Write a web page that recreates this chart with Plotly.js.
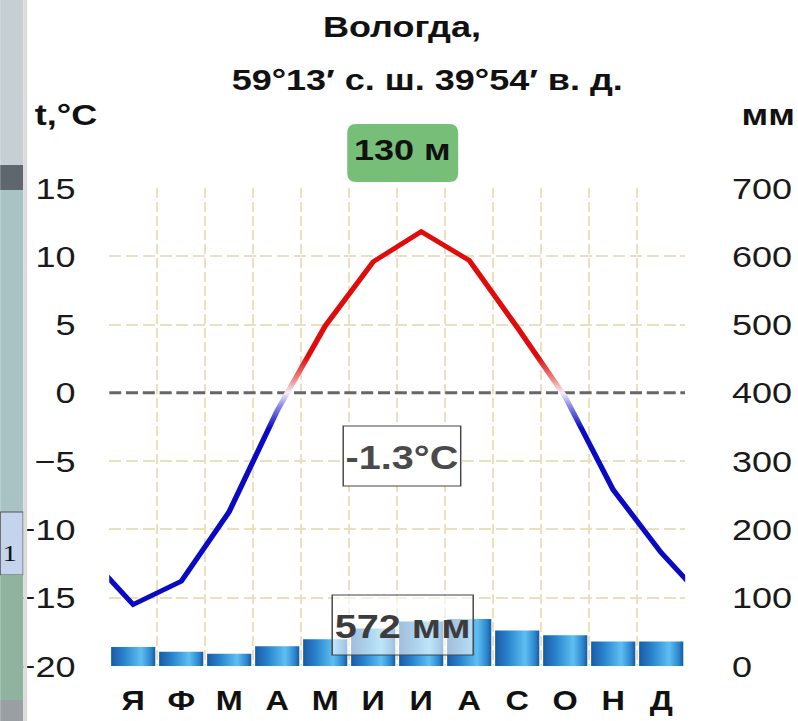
<!DOCTYPE html>
<html><head><meta charset="utf-8">
<script src="https://cdn.plot.ly/plotly-3.0.1.min.js"></script>
<style>
html,body{margin:0;padding:0;background:#fff;overflow:hidden}
#chart{width:665px;height:721px;transform:scaleX(1.2);transform-origin:0 0}
</style></head><body><div id="chart"></div>
<script>
// ---- data ----
const months = ['Я','Ф','М','А','М','И','И','А','С','О','Н','Д'];
const temps = [-15.5,-13.8,-8.7,-1.3,4.9,9.6,11.8,9.7,4.8,-0.3,-7.1,-11.7];
const precip = [28,21,18,29,39,55,65,69,52,45,36,36];
const tempTicks = [-20,-15,-10,-5,0,5,10,15];
const precipTicks = [0,100,200,300,400,500,600,700];
const titleText = 'Вологда,';
const coordText = '59°13′ с. ш. 39°54′ в. д.';
const tempUnit = 't,°C';
const precipUnit = 'мм';
const heightText = '130 м';
const meanTempText = '-1.3°C';
const totalPrecipText = '572 мм';

// ---- geometry helpers (page px -> plotly paper) ----
const S = 1.2, W = 798 / S, H = 721;
const ML = 109 / S, MR = W - 685 / S, MT = 188, MB = H - 666;
const PW = W - ML - MR, PH = H - MT - MB;
const px = X => (X / S - ML) / PW;
const py = Y => (H - MB - Y) / PH;

function roundRect(x0, y0, x1, y1, r) {
  const a = px(x0), b = px(x1), c = py(y1), d = py(y0);
  const rx = r / S / PW, ry = r / PH;
  return `M${a+rx},${c} L${b-rx},${c} Q${b},${c} ${b},${c+ry} L${b},${d-ry} Q${b},${d} ${b-rx},${d} L${a+rx},${d} Q${a},${d} ${a},${d-ry} L${a},${c+ry} Q${a},${c} ${a+rx},${c} Z`;
}

const idx = months.map((m, i) => i);
const FONT = '"Liberation Sans", Arial, sans-serif';

const bars = {
  type: 'bar', x: idx, y: precip, yaxis: 'y2', width: 0.92,
  marker: {color: '#2f8fd6', line: {width: 0}}, hoverinfo: 'skip'
};
const line = {
  type: 'scatter', mode: 'lines',
  x: [-1].concat(idx, [months.length]),
  y: [temps[temps.length - 1]].concat(temps, [temps[0]]),
  line: {color: '#1010c0', width: 4.6}, hoverinfo: 'skip'
};

const gridDash = '10px,4px';
const layout = {
  width: W, height: H,
  margin: {l: ML, r: MR, t: MT, b: MB, pad: 0},
  paper_bgcolor: '#ffffff', plot_bgcolor: '#ffffff',
  showlegend: false, hovermode: false,
  font: {family: FONT, color: '#1a1a1a'},
  title: {text: titleText, xref: 'container', yref: 'container',
          x: (402 / S) / W, y: 1 - 27 / H, xanchor: 'center', yanchor: 'middle',
          font: {size: 30, weight: 'bold', color: '#111', family: FONT}},
  xaxis: {range: [-0.5, months.length - 0.5], tickmode: 'array', tickvals: idx, ticktext: months,
          showgrid: false, zeroline: false, showline: false, ticks: '',
          ticklabelstandoff: 16,
          tickfont: {size: 27, weight: 'bold', color: '#111', family: FONT},
          minor: {tickmode: 'array', tickvals: idx.map(i => i - 0.5).concat([months.length - 0.5]),
                  showgrid: true, gridcolor: '#ecdfc0', gridwidth: 1.8, griddash: gridDash, ticks: ''}},
  yaxis: {range: [tempTicks[0], tempTicks[tempTicks.length - 1]], tickmode: 'array', tickvals: tempTicks,
          showgrid: true, gridcolor: '#ecdfc0', gridwidth: 2, griddash: gridDash,
          zeroline: false, showline: false, ticks: '', ticklabelstandoff: 27,
          tickfont: {size: 30, color: '#1a1a1a', family: FONT}},
  yaxis2: {range: [precipTicks[0], precipTicks[precipTicks.length - 1]], tickmode: 'array', tickvals: precipTicks,
           overlaying: 'y', side: 'right', showgrid: false, zeroline: false, showline: false,
           ticks: '', ticklabelstandoff: 38,
           tickfont: {size: 30, color: '#1a1a1a', family: FONT}},
  shapes: [
    // zero line
    {type: 'line', xref: 'x', yref: 'y', x0: -0.5, x1: months.length - 0.5, y0: 0, y1: 0,
     layer: 'between', line: {color: '#666666', width: 3, dash: '10px,4px'}},
    // altitude green box
    {type: 'path', xref: 'paper', yref: 'paper', path: roundRect(347, 124, 458, 182, 9),
     fillcolor: '#77bf78', line: {width: 0}, layer: 'above'},
    // mean temp box
    {type: 'rect', xref: 'paper', yref: 'paper', x0: px(343), x1: px(460.5), y0: py(486), y1: py(426),
     fillcolor: '#ffffff', line: {color: '#444', width: 1.2}, layer: 'above'},
    // total precip box
    {type: 'rect', xref: 'paper', yref: 'paper', x0: px(332), x1: px(473), y0: py(655), y1: py(595),
     fillcolor: 'rgba(255,255,255,0.6)', line: {color: '#444', width: 1.2}, layer: 'above'},
    // left edge background strip (photo remnant)
    {type: 'rect', xref: 'paper', yref: 'paper', x0: px(0), x1: px(23), y0: py(165), y1: py(0),
     fillcolor: '#c6d0d4', line: {width: 0}, layer: 'above'},
    {type: 'rect', xref: 'paper', yref: 'paper', x0: px(0), x1: px(23), y0: py(190), y1: py(165),
     fillcolor: '#5f676e', line: {width: 0}, layer: 'above'},
    {type: 'rect', xref: 'paper', yref: 'paper', x0: px(0), x1: px(23), y0: py(512), y1: py(190),
     fillcolor: '#a9c3c4', line: {width: 0}, layer: 'above'},
    {type: 'rect', xref: 'paper', yref: 'paper', x0: px(0), x1: px(23), y0: py(575), y1: py(512),
     fillcolor: '#c3d4ec', line: {color: '#555', width: 1}, layer: 'above'},
    {type: 'rect', xref: 'paper', yref: 'paper', x0: px(0), x1: px(23), y0: py(700), y1: py(575),
     fillcolor: '#8fb39e', line: {width: 0}, layer: 'above'},
    {type: 'rect', xref: 'paper', yref: 'paper', x0: px(0), x1: px(23), y0: py(721), y1: py(700),
     fillcolor: '#9a9fa3', line: {width: 0}, layer: 'above'},
    {type: 'rect', xref: 'paper', yref: 'paper', x0: px(23), x1: px(27), y0: py(721), y1: py(0),
     fillcolor: '#dcdcdc', line: {width: 0}, layer: 'above'}
  ],
  annotations: [
    {text: coordText, xref: 'paper', yref: 'paper', x: px(427), y: py(79), xanchor: 'center', yanchor: 'middle',
     showarrow: false, font: {size: 30, weight: 'bold', color: '#111', family: FONT}},
    {text: tempUnit, xref: 'paper', yref: 'paper', x: px(32), y: py(114), xanchor: 'left', yanchor: 'middle',
     showarrow: false, font: {size: 30, weight: 'bold', color: '#111', family: FONT}},
    {text: precipUnit, xref: 'paper', yref: 'paper', x: px(739), y: py(114), xanchor: 'left', yanchor: 'middle',
     showarrow: false, font: {size: 30, weight: 'bold', color: '#111', family: FONT}},
    {text: heightText, xref: 'paper', yref: 'paper', x: px(402.5), y: py(150), xanchor: 'center', yanchor: 'middle',
     showarrow: false, font: {size: 30, weight: 'bold', color: '#111', family: FONT}},
    {text: meanTempText, xref: 'paper', yref: 'paper', x: px(401.7), y: py(457), xanchor: 'center', yanchor: 'middle',
     showarrow: false, font: {size: 33, weight: 'bold', color: '#4a4a4a', family: FONT}},
    {text: totalPrecipText, xref: 'paper', yref: 'paper', x: px(402.5), y: py(626), xanchor: 'center', yanchor: 'middle',
     showarrow: false, font: {size: 33, weight: 'bold', color: '#3c3c3c', family: FONT}},
    {text: '1', xref: 'paper', yref: 'paper', x: px(1), y: py(553), xanchor: 'left', yanchor: 'middle',
     showarrow: false, borderpad: 0, font: {size: 24, color: '#111', family: '"Liberation Serif", serif'}}
  ]
};

const gd = document.getElementById('chart');
Plotly.newPlot(gd, [bars, line], layout, {staticPlot: true, displayModeBar: false}).then(() => {
  const NS = 'http://www.w3.org/2000/svg';
  const svg = gd.querySelector('svg.main-svg');
  let defs = svg.querySelector('defs');
  if (!defs) { defs = document.createElementNS(NS, 'defs'); svg.insertBefore(defs, svg.firstChild); }
  const mk = (id, attrs, stops) => {
    const g = document.createElementNS(NS, 'linearGradient');
    g.setAttribute('id', id);
    Object.keys(attrs).forEach(k => g.setAttribute(k, attrs[k]));
    stops.forEach(s => {
      const st = document.createElementNS(NS, 'stop');
      st.setAttribute('offset', s[0]); st.setAttribute('stop-color', s[1]);
      g.appendChild(st);
    });
    defs.appendChild(g);
  };
  const ya = gd._fullLayout.yaxis;
  const tTop = tempTicks[tempTicks.length - 1], tBot = tempTicks[0];
  const off = t => (tTop - t) / (tTop - tBot);
  mk('tempGrad', {gradientUnits: 'userSpaceOnUse', x1: 0, x2: 0, y1: ya.c2p(tTop), y2: ya.c2p(tBot)}, [
    [0, '#e00c0c'], [off(2.6), '#e00c0c'], [off(0.9), '#f09090'], [off(0), '#f4f0f6'],
    [off(-0.9), '#9090e8'], [off(-2.6), '#0a0ac4'], [1, '#0a0ac4']
  ]);
  mk('barGrad', {x1: 0, x2: 1, y1: 0, y2: 0}, [
    [0, '#185ca6'], [0.3, '#2a85cd'], [0.68, '#5fbff2'], [0.9, '#2b86cc'], [1, '#165aa2']
  ]);
  gd.querySelectorAll('.scatterlayer .js-line').forEach(p => { p.style.stroke = 'url(#tempGrad)'; });
  gd.querySelectorAll('.barlayer .point path').forEach(p => { p.style.fill = 'url(#barGrad)'; });
});
</script></body></html>
